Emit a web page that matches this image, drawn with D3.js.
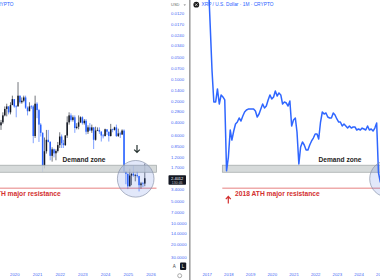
<!DOCTYPE html>
<html>
<head>
<meta charset="utf-8">
<script src="https://cdn.jsdelivr.net/npm/d3@7"></script>
<style>
body { margin: 0; background: #fff; }
svg { display: block; font-family: "Liberation Sans", Arial, sans-serif; }
</style>
</head>
<body>
<script>
var W = 380, H = 280;

// left panel: monthly XRP candles, May 2019 .. Oct 2025
var candleStart = "2019-05-01";
var opens = [.30,.44,.40,.32,.26,.24,.29,.23,
  .19,.24,.24,.17,.21,.20,.18,.25,.28,.24,.24,.62,
  .22,.27,.43,.56,1.60,1.01,.70,.75,1.17,.95,1.08,1.00,
  .83,.63,.78,.83,.61,.40,.32,.37,.34,.48,.46,.40,
  .34,.41,.38,.54,.47,.52,.47,.70,.52,.51,.54,.61,
  .62,.50,.54,.62,.50,.51,.47,.62,.57,.59,.52,1.94,
  2.08,3.10,2.20,2.08,2.19,2.17,2.24,3.00,2.83,2.85];
var highs = [.48,.51,.42,.33,.33,.31,.31,.23,
  .25,.34,.24,.22,.22,.21,.26,.32,.28,.26,.78,.66,
  .35,.75,.63,1.96,1.75,1.09,.76,1.35,1.41,1.23,1.35,1.05,
  .91,.91,.91,.85,.66,.43,.39,.39,.56,.50,.50,.41,
  .43,.43,.59,.58,.53,.56,.94,.72,.53,.58,.74,.67,
  .63,.60,.74,.63,.55,.52,.64,.64,.66,.60,1.98,2.91,
  3.40,3.15,3.00,2.28,2.65,2.35,3.66,3.38,3.19,3.10];
var lows = [.29,.37,.29,.24,.22,.24,.21,.17,
  .19,.23,.11,.17,.18,.17,.17,.24,.21,.23,.23,.17,
  .21,.26,.41,.55,.65,.51,.51,.73,.89,.93,.95,.75,
  .55,.59,.70,.60,.33,.29,.30,.32,.32,.41,.32,.33,
  .33,.36,.36,.44,.41,.43,.47,.46,.47,.47,.53,.58,
  .49,.50,.54,.42,.49,.46,.43,.49,.54,.50,.50,1.90,
  2.07,1.77,2.05,1.61,2.08,1.90,2.22,2.70,2.70,1.50];
var closes = [.44,.40,.32,.26,.24,.29,.23,.19,
  .24,.24,.17,.21,.20,.18,.25,.28,.24,.24,.62,.22,
  .27,.43,.56,1.60,1.01,.70,.75,1.17,.95,1.08,1.00,.83,
  .63,.78,.83,.61,.40,.32,.37,.34,.48,.46,.40,.34,
  .41,.38,.54,.47,.52,.47,.70,.52,.51,.54,.61,.62,
  .50,.54,.62,.50,.51,.47,.62,.57,.59,.52,1.94,2.08,
  3.10,2.20,2.08,2.19,2.17,2.24,3.00,2.83,2.85,2.40];

// right panel: monthly closes from Jan 2017
var lineStart = "2017-01-01";
var lineCloses = [0.004,0.005,0.018,0.077,0.208,0.208,0.137,0.222,0.166,0.177,0.195,1.89,
  1.216,0.511,0.705,0.528,0.422,0.396,0.348,0.383,0.326,0.287,0.269,0.261,
  0.261,0.261,0.261,0.278,0.337,0.306,0.261,0.222,0.252,0.237,0.195,0.166,
  0.189,0.177,0.146,0.172,0.156,0.166,0.222,0.208,0.215,0.237,0.202,0.45,
  0.371,0.348,0.545,1.52,0.882,0.751,0.827,0.971,0.971,0.827,0.727,0.661,
  0.581,0.581,0.683,0.396,0.287,0.306,0.296,0.337,0.348,0.348,0.296,0.316,
  0.359,0.396,0.396,0.45,0.422,0.45,0.48,0.45,0.48,0.464,0.464,0.511,
  0.495,0.511,0.48,0.495,0.511,0.45,0.511,0.495,0.528,0.48,0.408,2.0,
  2.71,2.9];

var priceTicks = [0.012,0.017,0.024,0.034,0.05,0.07,0.1,0.14,0.2,0.28,0.4,0.6,
  0.85,1.2,1.7,2.4,3.4,5,7,10,14,20,30];
var leftYears = [2020,2021,2022,2023,2024,2025,2026];
var rightYears = [2017,2018,2019,2020,2021,2022,2023,2024,2025];
var demandZone = [1.58, 1.98];
var resistance = 3.3;
var lastPrice = "2.4012", countdown = "130:46";

var blue = "#2962ff", axisBlue = "#4468f5", red = "#d32f2f";

var svg = d3.select("body").append("svg")
    .attr("width", W)
    .attr("height", H);

svg.append("rect").attr("width", W).attr("height", H).attr("fill", "#fff");

// shared inverted log price scale
var y = d3.scaleLog().domain([0.012, 30]).range([13, 257]);

var xL = d3.scaleUtc()
    .domain([new Date("2020-01-01"), new Date("2026-01-01")])
    .range([14.3, 150.5]);
var xR = d3.scaleUtc()
    .domain([new Date("2017-01-01"), new Date("2025-01-01")])
    .range([206.7, 380.3]);

var candles = opens.map(function(o, i) {
  return {date: d3.utcMonth.offset(new Date(candleStart), i),
          o: o, h: highs[i], l: lows[i], c: closes[i]};
});
var linePts = lineCloses.map(function(v, i) {
  return {date: d3.utcMonth.offset(new Date(lineStart), i), v: v};
});

// ---------- left panel ----------
var left = svg.append("g");

left.selectAll(".wick")
    .data(candles)
  .enter().append("line")
    .attr("x1", function(d) { return xL(d.date); })
    .attr("x2", function(d) { return xL(d.date); })
    .attr("y1", function(d) { return y(d.l); })
    .attr("y2", function(d) { return y(d.h); })
    .attr("stroke", function(d) { return d.c >= d.o ? blue : "#131722"; })
    .attr("stroke-width", 0.6);

left.selectAll(".body")
    .data(candles)
  .enter().append("rect")
    .attr("x", function(d) { return xL(d.date) - 0.75; })
    .attr("width", 1.5)
    .attr("y", function(d) { return Math.min(y(d.o), y(d.c)); })
    .attr("height", function(d) { return Math.max(0.7, Math.abs(y(d.o) - y(d.c))); })
    .attr("fill", function(d) { return d.c >= d.o ? blue : "#131722"; });

// drawings on left panel
left.append("rect")
    .attr("x", -2).attr("width", 158.5)
    .attr("y", y(demandZone[0])).attr("height", y(demandZone[1]) - y(demandZone[0]))
    .attr("fill", "#cfd4d4").attr("fill-opacity", 0.85)
    .attr("stroke", "#9ea5a5").attr("stroke-width", 0.7);

left.append("text")
    .attr("x", 84).attr("y", y(demandZone[0]) - 3)
    .attr("text-anchor", "middle")
    .attr("font-size", "6.6px").attr("font-weight", "bold").attr("fill", "#1e2323")
    .text("Demand zone");

left.append("line")
    .attr("x1", 0).attr("x2", 156.5)
    .attr("y1", y(resistance)).attr("y2", y(resistance))
    .attr("stroke", "#e06060").attr("stroke-width", 0.8);

left.append("text")
    .attr("x", -24).attr("y", y(resistance) + 8.3)
    .attr("font-size", "6.7px").attr("font-weight", "bold").attr("fill", red)
    .text("2018 ATH major resistance");

left.append("circle")
    .attr("cx", 135.7).attr("cy", 178.8).attr("r", 18.3)
    .attr("fill", "#4a6ee0").attr("fill-opacity", 0.16)
    .attr("stroke", "#8a93aa").attr("stroke-width", 0.7);

left.append("path")
    .attr("d", "M137,145 V152.5 M134.2,149.6 L137,152.5 L139.8,149.6")
    .attr("fill", "none").attr("stroke", "#24302e").attr("stroke-width", 1.2);

left.append("text")
    .attr("x", 13.5).attr("y", 6.3)
    .attr("text-anchor", "end")
    .attr("font-size", "4.8px").attr("fill", blue)
    .text("XRP / U.S. Dollar · 1W · CRYPTO");

// price axis
var yAxis = left.append("g")
    .attr("transform", "translate(171,0)")
    .call(d3.axisRight(y).tickValues(priceTicks).tickFormat(d3.format(".4f"))
      .tickSize(0).tickPadding(0));
yAxis.select(".domain").remove();
yAxis.selectAll("text")
    .attr("font-size", "4.3px").attr("fill", axisBlue)
    .attr("font-family", "Liberation Sans, Arial, sans-serif");

left.append("text")
    .attr("x", 171).attr("y", 6.3)
    .attr("font-size", "4px").attr("fill", "#666")
    .text("USD");
left.append("path")
    .attr("d", "M183.5,4.4 L186,4.4 L184.75,5.8 Z")
    .attr("fill", "#777");

left.append("rect")
    .attr("x", 168.5).attr("y", 175.2).attr("width", 17.5).attr("height", 9.6)
    .attr("rx", 0.8).attr("fill", "#131722");
left.append("text")
    .attr("x", 177.2).attr("y", 179.5).attr("text-anchor", "middle")
    .attr("font-size", "4px").attr("fill", "#fff")
    .text(lastPrice);
left.append("text")
    .attr("x", 177.2).attr("y", 183.7).attr("text-anchor", "middle")
    .attr("font-size", "3.5px").attr("fill", "#bbb")
    .text(countdown);

// small chart buttons
left.append("text")
    .attr("x", 174.3).attr("y", 268).attr("text-anchor", "middle")
    .attr("font-size", "4.5px").attr("fill", "#444")
    .text("A");
left.append("rect")
    .attr("x", 180).attr("y", 262.5).attr("width", 6.2).attr("height", 7.5)
    .attr("rx", 1).attr("fill", "#131722");
left.append("text")
    .attr("x", 183.1).attr("y", 268).attr("text-anchor", "middle")
    .attr("font-size", "4.5px").attr("fill", "#fff")
    .text("L");
left.append("circle")
    .attr("cx", 179.7).attr("cy", 275.7).attr("r", 2)
    .attr("fill", "none").attr("stroke", "#888").attr("stroke-width", 0.7);

var xAxisL = left.append("g")
    .attr("transform", "translate(0,273.3)")
    .call(d3.axisBottom(xL)
      .tickValues(leftYears.map(function(yr) { return new Date(Date.UTC(yr, 0, 1)); }))
      .tickFormat(d3.utcFormat("%Y")).tickSize(0).tickPadding(0));
xAxisL.select(".domain").remove();
xAxisL.selectAll("text")
    .attr("font-size", "4.3px").attr("fill", axisBlue)
    .attr("font-family", "Liberation Sans, Arial, sans-serif");

// separator
svg.append("line")
    .attr("x1", 189.8).attr("x2", 189.8).attr("y1", 0).attr("y2", H)
    .attr("stroke", "#a0a0a0").attr("stroke-width", 1.6);

// ---------- right panel ----------
var right = svg.append("g");

right.append("rect")
    .attr("x", 222.3).attr("width", 170)
    .attr("y", y(demandZone[0])).attr("height", y(demandZone[1]) - y(demandZone[0]))
    .attr("fill", "#cfd4d4").attr("fill-opacity", 0.85)
    .attr("stroke", "#9ea5a5").attr("stroke-width", 0.7);

right.append("line")
    .attr("x1", 222.3).attr("x2", W)
    .attr("y1", y(resistance)).attr("y2", y(resistance))
    .attr("stroke", "#e06060").attr("stroke-width", 0.8);

right.append("path")
    .datum(linePts)
    .attr("fill", "none")
    .attr("stroke", "#2f66ff")
    .attr("stroke-width", 1.5)
    .attr("stroke-linejoin", "round")
    .attr("d", d3.line()
      .x(function(d) { return xR(d.date); })
      .y(function(d) { return y(d.v); }));

right.append("circle")
    .attr("cx", 388).attr("cy", 178.8).attr("r", 18.3)
    .attr("fill", "#4a6ee0").attr("fill-opacity", 0.16)
    .attr("stroke", "#8a93aa").attr("stroke-width", 0.7);

right.append("text")
    .attr("x", 340).attr("y", y(demandZone[0]) - 3.5)
    .attr("text-anchor", "middle")
    .attr("font-size", "6.6px").attr("font-weight", "bold").attr("fill", "#1e2323")
    .text("Demand zone");

right.append("text")
    .attr("x", 235).attr("y", y(resistance) + 8.3)
    .attr("font-size", "6.7px").attr("font-weight", "bold").attr("fill", red)
    .text("2018 ATH major resistance");

right.append("path")
    .attr("d", "M228.3,203.5 V196.5 M225.8,199.2 L228.3,196.5 L230.8,199.2")
    .attr("fill", "none").attr("stroke", red).attr("stroke-width", 1.2);

right.append("circle")
    .attr("cx", 196.3).attr("cy", 4.7).attr("r", 2.9)
    .attr("fill", "#1a1a1a");
right.append("path")
    .attr("d", "M195,3.4 L197.6,6 M197.6,3.4 L195,6")
    .attr("stroke", "#fff").attr("stroke-width", 0.6);

right.append("text")
    .attr("x", 201.5).attr("y", 6.4)
    .attr("font-size", "4.8px").attr("fill", blue)
    .text("XRP / U.S. Dollar · 1M · CRYPTO");

var xAxisR = right.append("g")
    .attr("transform", "translate(0,273.3)")
    .call(d3.axisBottom(xR)
      .tickValues(rightYears.map(function(yr) { return new Date(Date.UTC(yr, 0, 1)); }))
      .tickFormat(d3.utcFormat("%Y")).tickSize(0).tickPadding(0));
xAxisR.select(".domain").remove();
xAxisR.selectAll("text")
    .attr("font-size", "4.3px").attr("fill", axisBlue)
    .attr("font-family", "Liberation Sans, Arial, sans-serif");
</script>
</body>
</html>
